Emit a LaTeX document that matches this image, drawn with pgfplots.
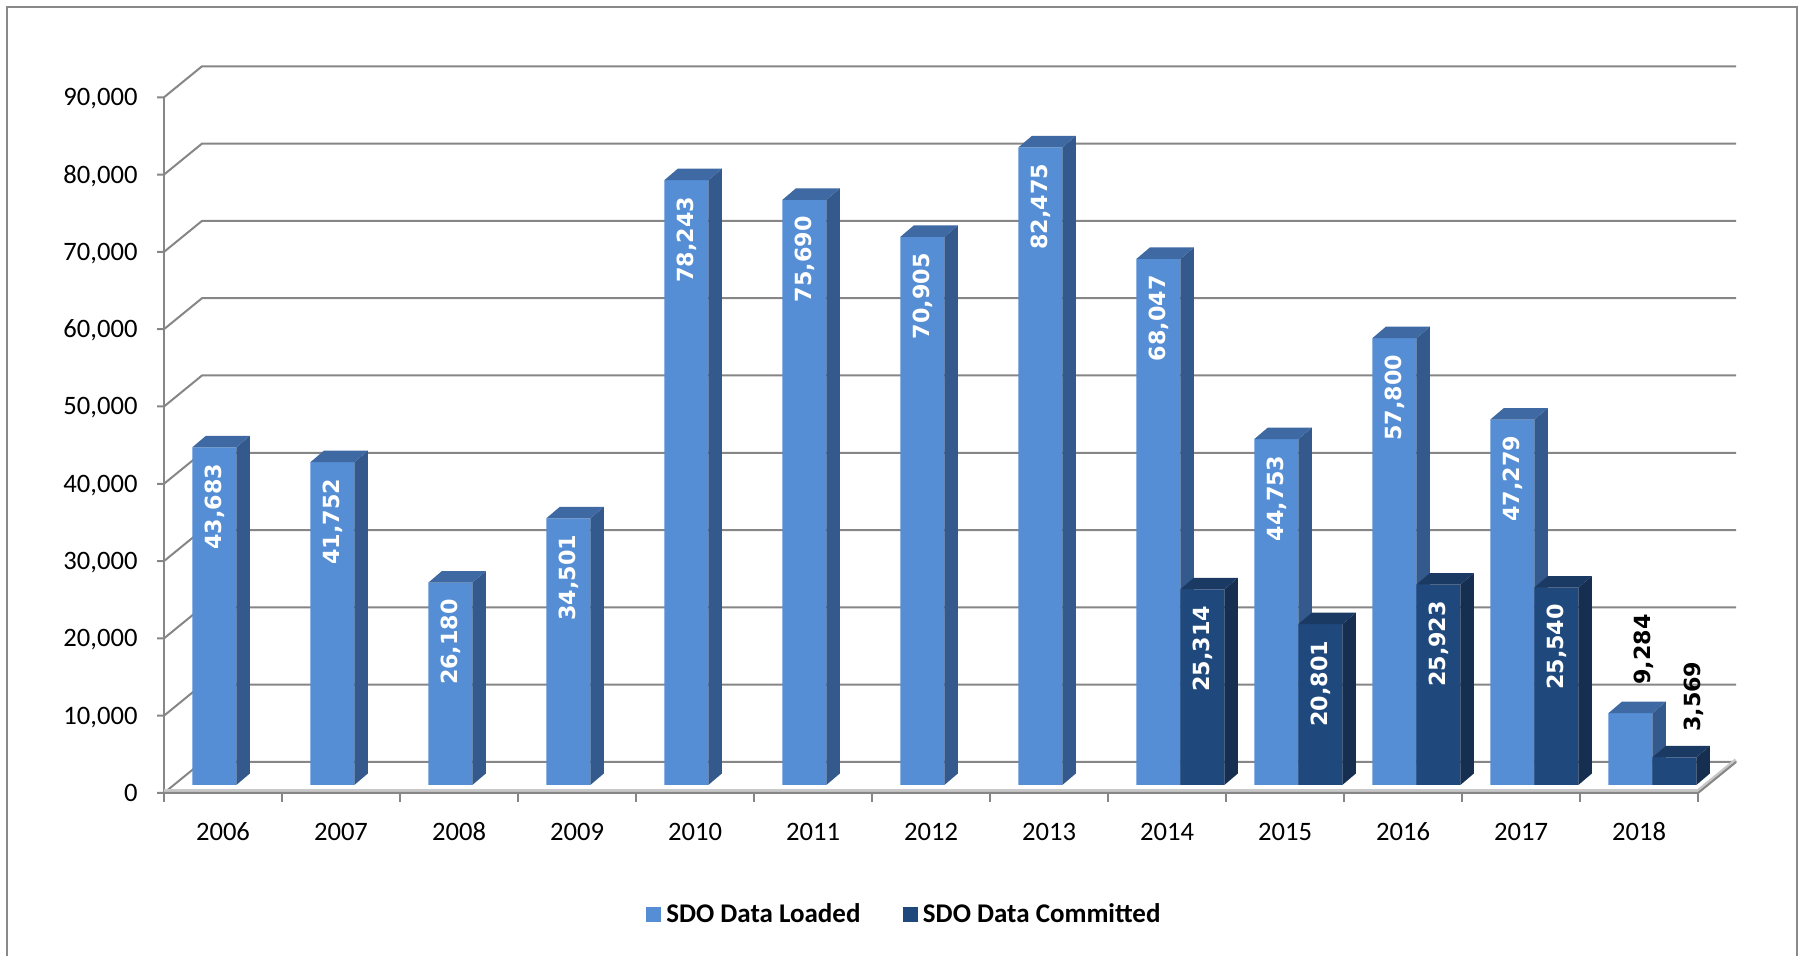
\documentclass[border=0pt]{standalone}
\usepackage{fontspec}
\setmainfont{Carlito}
\newfontfamily\labfont{DejaVu Sans}
\usepackage{pgfplots}
\pgfplotsset{compat=1.18}
\usepackage{pgfplotstable}

\definecolor{Lfront}{RGB}{85,142,213}
\definecolor{Lside}{RGB}{52,89,140}
\definecolor{Ltop}{RGB}{62,105,163}
\definecolor{Cfront}{RGB}{31,72,125}
\definecolor{Cside}{RGB}{22,46,80}
\definecolor{Ctop}{RGB}{27,58,99}
\definecolor{gridc}{RGB}{134,134,134}
\definecolor{framec}{RGB}{137,137,137}
\definecolor{floorc}{RGB}{200,200,200}

\pgfplotstableread{
i v
0 43683
1 41752
2 26180
3 34501
4 78243
5 75690
6 70905
7 82475
8 68047
9 44753
10 57800
11 47279
12 9284
}\loaded
\pgfplotstableread{
i v
8 25314
9 20801
10 25923
11 25540
12 3569
}\committed

\newcommand\fpcalc[2]{\begingroup\pgfkeys{/pgf/fpu=true,/pgf/fpu/output format=fixed}\pgfmathparse{#2}\xdef#1{\pgfmathresult}\endgroup}

\def\dX{0.1144}
\def\dY{1488}

% side and top faces of the 3-D bars, built from the table values
\newcommand\barfaces[5]{%
  \pgfplotstablegetrowsof{#1}%
  \pgfmathtruncatemacro\lastrow{\pgfplotsretval-1}%
  \pgfplotsforeachungrouped \rowidx in {0,...,\lastrow}{%
    \pgfplotstablegetelem{\rowidx}{i}\of{#1}\let\ci\pgfplotsretval
    \pgfplotstablegetelem{\rowidx}{v}\of{#1}\let\cv\pgfplotsretval
    \fpcalc\xL{\ci+#2}%
    \fpcalc\xR{\ci+#3}%
    \fpcalc\xLL{\ci+#2+\dX}%
    \fpcalc\xRR{\ci+#3+\dX}%
    \fpcalc\vT{\cv+\dY}%
    \edef\temp{\noexpand\addplot[forget plot, draw=none, fill=#4] coordinates {(\xR,0) (\xRR,\dY) (\xRR,\vT) (\xR,\cv)};
      \noexpand\addplot[forget plot, draw=none, fill=#5] coordinates {(\xL,\cv) (\xR,\cv) (\xRR,\vT) (\xLL,\vT)};}%
    \temp
  }%
}

\pgfplotsset{
  vlabel/.style={forget plot, draw=none, mark=none, point meta=explicit,
    nodes near coords={\pgfmathprintnumber[assume math mode=true, fixed, precision=0, 1000 sep={,}]{\pgfplotspointmeta}},
    every node near coord/.append style={font=\labfont\bfseries\fontsize{8.9}{10.7}\selectfont, inner sep=0pt, rotate=90}},
}

\begin{document}
\begin{tikzpicture}
\begin{axis}[
  width=720pt, height=382.4pt, scale only axis,
  xmin=-1.389831, xmax=13.864407, ymin=-22121.6, ymax=101552.4,
  clip=false,
  scaled x ticks=false, scaled y ticks=false,
  axis line style={draw=none},
  major tick length=0pt, tick style={draw=none},
  xtick pos=bottom, ytick pos=left,
  xtick={0.5,1.5,...,12.5},
  xticklabels={2006,2007,2008,2009,2010,2011,2012,2013,2014,2015,2016,2017,2018},
  ytick={-1035,8965,18965,28965,38965,48965,58965,68965,78965,88965},
  yticklabels={0,{10,000},{20,000},{30,000},{40,000},{50,000},{60,000},{70,000},{80,000},{90,000}},
  tick label style={font=\fontsize{10.64}{12.8}\selectfont, text=black},
  yticklabel style={anchor=base east, inner sep=0pt, xshift=55.2pt, yshift=-3.4pt},
  xticklabel style={anchor=base, inner sep=0pt, yshift=46pt},
  legend columns=2,
  legend style={at={(0.5033,0.0429)}, anchor=center, draw=none, fill=none,
    font=\bfseries\fontsize{10.8}{13}\selectfont,
    /tikz/every even column/.append style={column sep=15pt}},
  legend image code/.code={\fill[#1] (0pt,-3pt) rectangle (6pt,3pt);},
]
\coordinate (pageSW) at (rel axis cs:0,0);
\coordinate (pageNE) at (rel axis cs:1,1);

% outer frame
\addplot[forget plot, framec, line width=1pt] coordinates {(-1.33051,-22121.6) (-1.33051,100647) (13.83898,100647) (13.83898,-22121.6)};

% back wall grid lines, side wall diagonals and y tick marks
\pgfplotsforeachungrouped \t in {0,...,9}{%
  \fpcalc\yf{\t*10000-1035}%
  \fpcalc\yb{\t*10000+2975}%
  \edef\temp{\noexpand\addplot[forget plot, gridc, line width=0.8pt] coordinates {(-0.0593,\yf) (0,\yf) (0.322,\yb) (13.322,\yb)};}%
  \temp
}
% front y axis
\addplot[forget plot, gridc, line width=0.8pt] coordinates {(0,-1035) (0,88965)};
% floor front edge and right edge
\addplot[forget plot, floorc, line width=1.6pt] coordinates {(0,-800) (13,-800) (13.322,3210)};
\addplot[forget plot, gridc, line width=0.8pt] coordinates {(0,-1035) (13,-1035) (13.322,2975)};
% x tick marks
\pgfplotsforeachungrouped \k in {0,...,13}{%
  \edef\temp{\noexpand\addplot[forget plot, gridc, line width=0.8pt] coordinates {(\k,-1035) (\k,-2200)};}%
  \temp
}

% SDO Data Loaded
\addplot[ybar, bar width=0.373, bar shift=0pt, fill=Lfront, draw=none]
  table[x expr=\thisrow{i}+0.4265, y=v] {\loaded};
\addlegendentry{SDO Data Loaded}
\barfaces{\loaded}{0.240}{0.613}{Lside}{Ltop}

% SDO Data Committed
\addplot[ybar, bar width=0.373, bar shift=0pt, fill=Cfront, draw=none]
  table[x expr=\thisrow{i}+0.7995, y=v] {\committed};
\addlegendentry{SDO Data Committed}
\barfaces{\committed}{0.613}{0.986}{Cside}{Ctop}

% value labels inside the bars (placed 16 px below the bar top)
\addplot[vlabel, restrict x to domain=0:12,
  every node near coord/.append style={text=white, anchor=east}]
  table[x expr=\thisrow{i}+0.4265, y expr=\thisrow{v}-2070, meta=v] {\loaded};
\addplot[vlabel, restrict x to domain=0:12,
  every node near coord/.append style={text=white, anchor=east}]
  table[x expr=\thisrow{i}+0.7995, y expr=\thisrow{v}-2070, meta=v] {\committed};
% value labels above the 2018 bars
\addplot[vlabel, restrict x to domain=12:13,
  every node near coord/.append style={text=black, anchor=west}]
  table[x expr=\thisrow{i}+0.5409, y expr=\thisrow{v}+3620, meta=v] {\loaded};
\addplot[vlabel, restrict x to domain=12:13,
  every node near coord/.append style={text=black, anchor=west}]
  table[x expr=\thisrow{i}+0.9605, y expr=\thisrow{v}+3230, meta=v] {\committed};
\end{axis}
\pgfresetboundingbox
\useasboundingbox (pageSW) rectangle (pageNE);
\end{tikzpicture}
\end{document}
